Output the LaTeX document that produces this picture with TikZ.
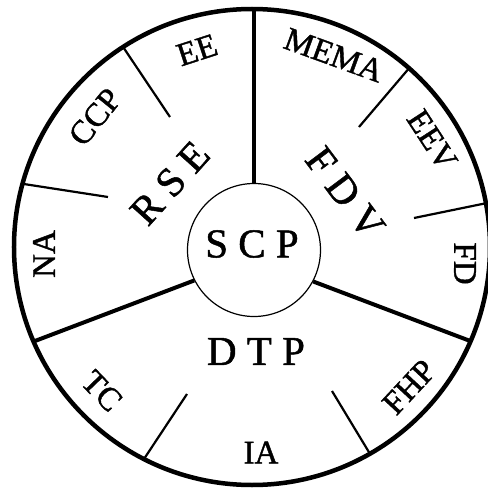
\documentclass[tikz,border=0pt]{standalone}
\usepackage{fontspec}
\setmainfont{Liberation Serif}[FakeBold=1.2]
\begin{document}
\begin{tikzpicture}[x=1pt,y=1pt,
  rim/.style={line width=4.5pt},
  major/.style={line width=4pt},
  minor/.style={line width=2.2pt},
  small/.style={font=\fontsize{33}{33}\selectfont, inner sep=0pt},
  big/.style={font=\fontsize{41}{41}\selectfont, inner sep=0pt}]
\useasboundingbox (-252,-241) rectangle (236,247);
\fill[white] (-252,-241) rectangle (236,247);
% outer rim
\draw[rim] (0,0) circle (238);
% hub
\node[circle, draw, line width=1.2pt, minimum size=133pt, inner sep=0pt] (hub) at (2,-3) {};
\node[big] (scp) at (0,3) {S C P};
% major dividers
\coordinate (top) at (2,238);
\coordinate (ll) at (203.4:238);
\coordinate (lr) at (-23.3:238);
\draw[major] (hub.north) -- (top);
\draw[major] (hub.207) -- (ll);
\draw[major] (hub.-28) -- (lr);
% minor dividers
\coordinate (o1) at (122.8:238); \coordinate (i1) at (-82,130);
\coordinate (o2) at (164.6:238); \coordinate (i2) at (-144,50);
\coordinate (o3) at (48.7:238);  \coordinate (i3) at (107,120);
\coordinate (o4) at (10.6:238);  \coordinate (i4) at (162,29);
\coordinate (o5) at (243.0:238); \coordinate (i5) at (-65,-147);
\coordinate (o6) at (-60.3:238); \coordinate (i6) at (80,-144);
\draw[minor] (o1) -- (i1);
\draw[minor] (o2) -- (i2);
\draw[minor] (o3) -- (i3);
\draw[minor] (o4) -- (i4);
\draw[minor] (o5) -- (i5);
\draw[minor] (o6) -- (i6);
% sector labels
\node[big, rotate=48] (rse) at (-82,64) {R S E};
\node[big, rotate=-53] (fdv) at (93,54) {F D V};
\node[big] (dtp) at (4,-104.5) {D T P};
% sub-sector labels
\node[small, rotate=18] (ee) at (-55,197) {EE};
\node[small, rotate=51] (ccp) at (-157,130) {CCP};
\node[small, rotate=90] (na) at (-208,-7) {NA};
\node[small, rotate=-20] (mema) at (82,192) {MEMA};
\node[small, rotate=-57] (eev) at (180,107) {EEV};
\node[small, rotate=-90] (fd) at (213,-16.5) {FD};
\node[small, rotate=-46] (tc) at (-150,-144) {TC};
\node[small] (ia) at (9,-205.5) {IA};
\node[small, rotate=47] (fhp) at (157,-140) {FHP};
\end{tikzpicture}
\end{document}
